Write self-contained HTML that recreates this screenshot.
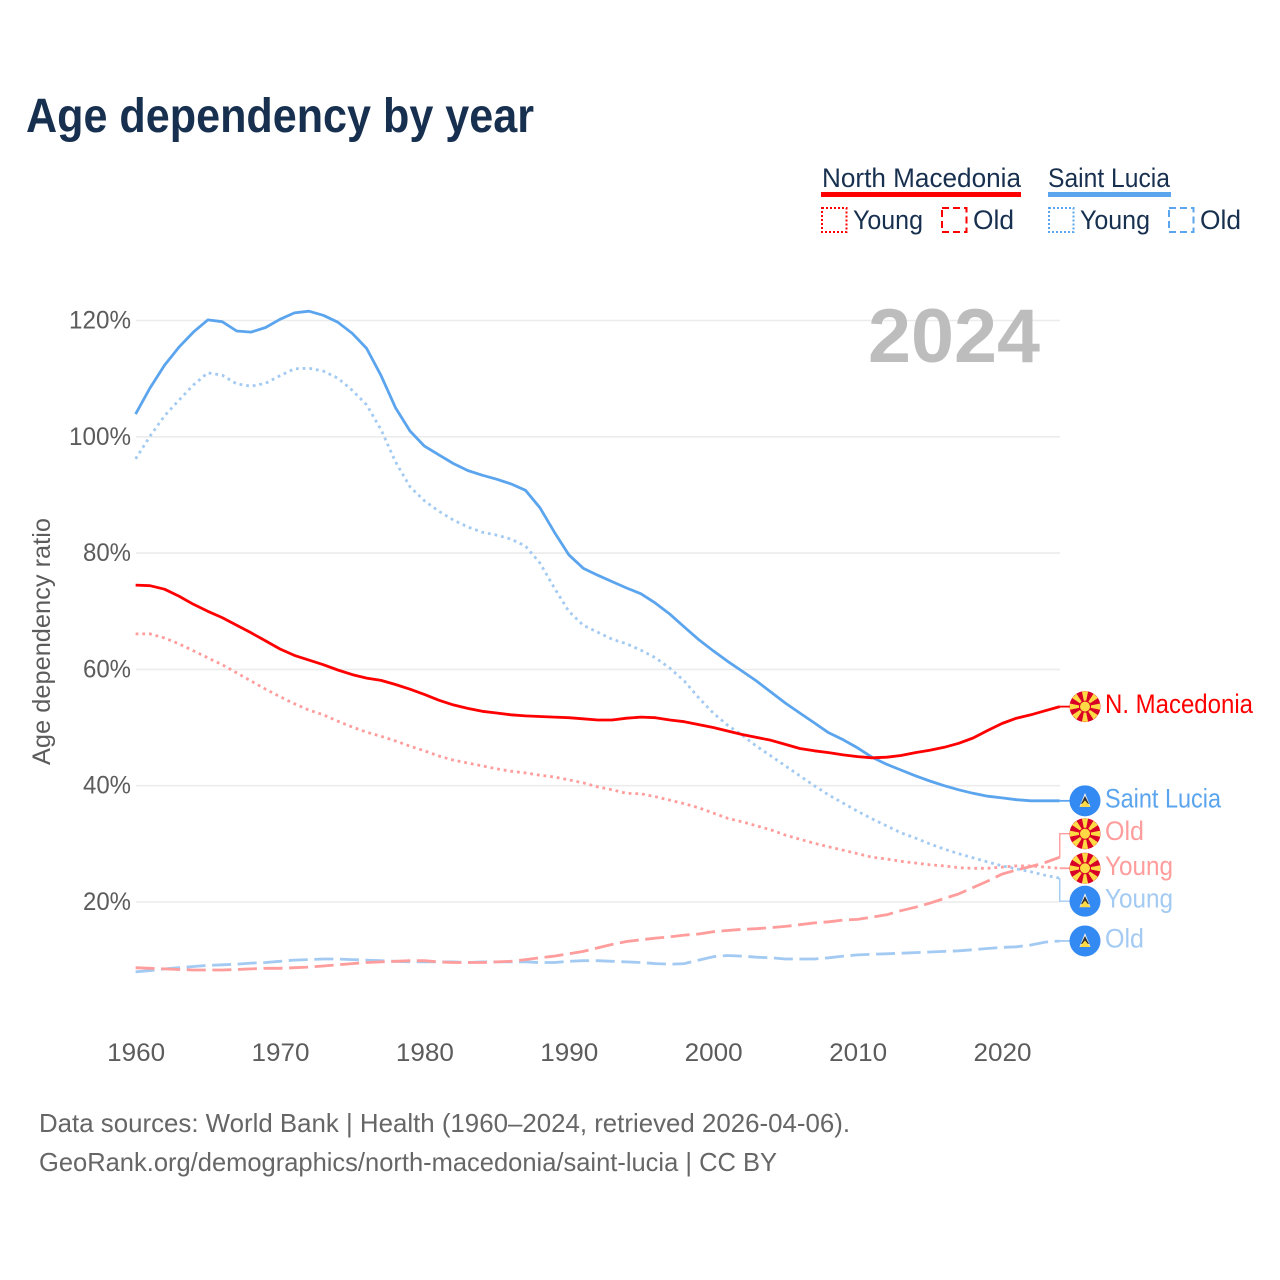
<!DOCTYPE html>
<html lang="en">
<head>
<meta charset="utf-8">
<title>Age dependency by year</title>
<style>
html,body{margin:0;padding:0;background:#fff;}
svg{display:block;font-family:"Liberation Sans",sans-serif;}
</style>
</head>
<body>
<svg id="chart" xmlns="http://www.w3.org/2000/svg" width="1280" height="1280" viewBox="0 0 1280 1280">
  <rect width="1280" height="1280" fill="#fff"/>
  <text x="26" y="132" font-size="48" font-weight="bold" fill="#18304f" textLength="508" lengthAdjust="spacingAndGlyphs">Age dependency by year</text>

  <g font-size="27" fill="#18304f">
    <text x="822" y="187" textLength="199" lengthAdjust="spacingAndGlyphs">North Macedonia</text>
    <rect x="821" y="192" width="200" height="5" fill="#ff0000"/>
    <rect x="822" y="208" width="24.500" height="24" fill="none" stroke="#ff0000" stroke-width="2" stroke-dasharray="2 2"/>
    <text x="853" y="229" textLength="70" lengthAdjust="spacingAndGlyphs">Young</text>
    <rect x="942" y="208" width="24.500" height="24" fill="none" stroke="#ff0000" stroke-width="2" stroke-dasharray="7 4"/>
    <text x="973" y="229" textLength="41" lengthAdjust="spacingAndGlyphs">Old</text>

    <text x="1048" y="187" textLength="122" lengthAdjust="spacingAndGlyphs">Saint Lucia</text>
    <rect x="1048" y="192" width="123" height="5" fill="#5ba4ee"/>
    <rect x="1049" y="208" width="24.500" height="24" fill="none" stroke="#5ba4ee" stroke-width="2" stroke-dasharray="2 2"/>
    <text x="1080" y="229" textLength="70" lengthAdjust="spacingAndGlyphs">Young</text>
    <rect x="1169" y="208" width="24.500" height="24" fill="none" stroke="#5ba4ee" stroke-width="2" stroke-dasharray="7 4"/>
    <text x="1200" y="229" textLength="41" lengthAdjust="spacingAndGlyphs">Old</text>
  </g>

  <g id="grid"></g>
  <text x="868" y="362" font-size="76" font-weight="bold" fill="#bdbdbd" textLength="172" lengthAdjust="spacingAndGlyphs">2024</text>
  <g id="yticks" font-size="25" fill="#5c5c5c"></g>
  <g id="xticks" font-size="25" fill="#5c5c5c"></g>
  <text transform="translate(50,765) rotate(-90)" x="0" y="0" font-size="25" fill="#5c5c5c" textLength="247" lengthAdjust="spacingAndGlyphs">Age dependency ratio</text>
  <g id="series"></g>
  <g id="ends" font-size="27"></g>

  <g font-size="26" fill="#666666">
    <text x="39" y="1132" textLength="811" lengthAdjust="spacingAndGlyphs">Data sources: World Bank | Health (1960–2024, retrieved 2026-04-06).</text>
    <text x="39" y="1171" textLength="738" lengthAdjust="spacingAndGlyphs">GeoRank.org/demographics/north-macedonia/saint-lucia | CC BY</text>
  </g>
</svg>
<script>
const startYear = 1960;
const xTickLabels = [1960, 1970, 1980, 1990, 2000, 2010, 2020];
const yTickLabels = [20, 40, 60, 80, 100, 120];

const nmTotal = [74.5,74.4,73.8,72.6,71.2,70.0,68.9,67.6,66.3,64.9,63.5,62.4,61.6,60.8,59.9,59.1,58.5,58.1,57.4,56.6,55.7,54.7,53.9,53.3,52.8,52.5,52.2,52.0,51.9,51.8,51.7,51.5,51.3,51.3,51.6,51.8,51.7,51.3,51.0,50.5,50.0,49.4,48.8,48.3,47.8,47.1,46.4,46.0,45.7,45.3,45.0,44.8,44.9,45.2,45.7,46.1,46.6,47.3,48.2,49.5,50.7,51.6,52.2,52.9,53.6];
const nmYoung = [66.1,66.1,65.4,64.4,63.2,62.0,60.8,59.4,58.0,56.6,55.3,54.1,53.0,52.2,51.1,50.1,49.2,48.5,47.7,46.8,46.0,45.1,44.4,43.9,43.4,42.9,42.5,42.2,41.8,41.5,41.0,40.5,39.8,39.3,38.7,38.6,38.1,37.5,36.9,36.2,35.3,34.4,33.8,33.1,32.4,31.5,30.8,30.1,29.5,28.9,28.3,27.7,27.4,27.0,26.7,26.4,26.2,25.9,25.8,25.8,26.0,26.2,26.2,26.0,25.8];
const nmOld = [8.7,8.6,8.5,8.4,8.3,8.3,8.3,8.4,8.5,8.6,8.6,8.7,8.8,9.0,9.2,9.4,9.6,9.7,9.8,9.9,9.9,9.7,9.6,9.6,9.6,9.7,9.8,10.1,10.4,10.7,11.1,11.5,12.1,12.7,13.2,13.5,13.8,14.0,14.3,14.5,14.9,15.1,15.3,15.4,15.6,15.8,16.1,16.4,16.6,16.9,17.0,17.4,17.8,18.5,19.1,19.8,20.6,21.4,22.5,23.6,24.8,25.5,26.1,26.8,27.7];
const slTotal = [103.9,108.4,112.3,115.4,118.0,120.1,119.8,118.2,118.0,118.8,120.2,121.3,121.6,120.9,119.7,117.8,115.2,110.5,105.0,101.0,98.4,96.9,95.4,94.2,93.4,92.7,91.9,90.8,87.8,83.6,79.7,77.4,76.2,75.1,74.0,73.0,71.4,69.5,67.3,65.1,63.2,61.4,59.7,58.0,56.1,54.2,52.5,50.8,49.1,47.9,46.5,44.9,43.7,42.7,41.7,40.8,40.0,39.3,38.7,38.2,37.9,37.6,37.4,37.4,37.4];
const slYoung = [96.2,100.1,103.6,106.3,108.9,111.0,110.6,109.1,108.7,109.2,110.5,111.7,111.8,111.3,110.1,108.0,105.5,101.2,95.7,91.4,89.0,87.2,85.7,84.5,83.6,83.1,82.4,81.2,78.3,74.0,70.0,67.6,66.4,65.2,64.4,63.3,62.0,60.2,58.0,55.1,52.5,50.4,48.7,46.8,45.1,43.4,41.7,40.0,38.4,37.0,35.6,34.3,33.1,31.9,31.0,30.0,29.1,28.3,27.6,26.9,26.2,25.7,25.2,24.6,24.1];
const slOld = [8.0,8.2,8.5,8.7,8.9,9.1,9.2,9.3,9.5,9.6,9.8,10.0,10.1,10.2,10.2,10.1,10.0,9.9,9.8,9.7,9.7,9.7,9.7,9.6,9.7,9.7,9.7,9.7,9.6,9.6,9.8,9.9,9.9,9.8,9.7,9.6,9.4,9.3,9.4,10.0,10.6,10.8,10.7,10.5,10.4,10.2,10.2,10.2,10.4,10.7,10.9,11.0,11.1,11.2,11.3,11.4,11.5,11.6,11.8,12.0,12.2,12.3,12.6,13.1,13.3];

const NS = 'http://www.w3.org/2000/svg';
const xScale = function (year) { return 135.6 + (year - startYear) * 14.44; };
const yScale = function (pct) { return 902 - (pct - 20) * 5.815; };

function mk(tag, parent, attrs) {
  const el = document.createElementNS(NS, tag);
  for (const k in attrs) el.setAttribute(k, attrs[k]);
  parent.appendChild(el);
  return el;
}

const grid = document.getElementById('grid');
const yticks = document.getElementById('yticks');
const xticks = document.getElementById('xticks');
const seriesG = document.getElementById('series');
const ends = document.getElementById('ends');

yTickLabels.forEach(function (v) {
  const line = mk('line', grid, {x1: 136, x2: 1060, y1: yScale(v), y2: yScale(v), stroke: '#ececec', 'stroke-width': 1.6});
  
  
  const s = v + '%';
  const t = mk('text', yticks, {x: 131, y: yScale(v) + 8, 'text-anchor': 'end', textLength: s.length === 4 ? 62 : 48, lengthAdjust: 'spacingAndGlyphs'});
  t.textContent = s;
  
  
});

xTickLabels.forEach(function (yr) {
  const t = mk('text', xticks, {x: xScale(yr) - 28.5, y: 1061, textLength: 58, lengthAdjust: 'spacingAndGlyphs'});
  t.textContent = yr;
  
  
});

function drawLine(values, color, dash, name) {
  const pts = values.map(function (v, i) {
    return xScale(startYear + i).toFixed(1) + ',' + yScale(v).toFixed(1);
  }).join(' ');
  const attrs = {points: pts, fill: 'none', stroke: color, 'stroke-width': 2.8, 'stroke-linejoin': 'round'};
  if (dash) attrs['stroke-dasharray'] = dash;
  const el = mk('polyline', seriesG, attrs);
  
  
}

const DOT = '2.8 3.9';
const DASH = '19 6.6';
const RED = '#ff0000', BLUE = '#5ba4ee', PALE_RED = '#ff9c9c', PALE_BLUE = '#a3caf2';

drawLine(slOld, PALE_BLUE, DASH, 'line-saint-lucia-old');
drawLine(nmOld, PALE_RED, DASH, 'line-north-macedonia-old');
drawLine(nmYoung, PALE_RED, DOT, 'line-north-macedonia-young');
drawLine(slYoung, PALE_BLUE, DOT, 'line-saint-lucia-young');
drawLine(slTotal, BLUE, null, 'line-saint-lucia-total');
drawLine(nmTotal, RED, null, 'line-north-macedonia-total');

function flagNM(parent, cx, cy) {
  const g = mk('g', parent, {});
  
  
  mk('circle', g, {cx: cx, cy: cy, r: 15.5, fill: '#d80027'});
  for (let a = 0; a < 8; a++) {
    const t = a * Math.PI / 4;
    const w = 0.2;
    mk('polygon', g, {
      points: [
        cx + ',' + cy,
        (cx + 15.5 * Math.cos(t - w)) + ',' + (cy + 15.5 * Math.sin(t - w)),
        (cx + 15.5 * Math.cos(t + w)) + ',' + (cy + 15.5 * Math.sin(t + w))
      ].join(' '),
      fill: '#ffda44'
    });
  }
  mk('circle', g, {cx: cx, cy: cy, r: 6, fill: '#d80027'});
  mk('circle', g, {cx: cx, cy: cy, r: 5, fill: '#ffda44'});
}

function flagSL(parent, cx, cy) {
  const g = mk('g', parent, {});
  
  
  mk('circle', g, {cx: cx, cy: cy, r: 15.5, fill: '#338af3'});
  mk('polygon', g, {points: cx + ',' + (cy - 8) + ' ' + (cx + 5.5) + ',' + (cy + 6) + ' ' + (cx - 5.5) + ',' + (cy + 6), fill: '#f3f3f3'});
  mk('polygon', g, {points: cx + ',' + (cy - 5) + ' ' + (cx + 4) + ',' + (cy + 3) + ' ' + (cx - 4) + ',' + (cy + 3), fill: '#333333'});
  mk('polygon', g, {points: cx + ',' + (cy - 0.5) + ' ' + (cx + 5.5) + ',' + (cy + 6) + ' ' + (cx - 5.5) + ',' + (cy + 6), fill: '#ffda44'});
}

function drawEnd(values, offset, color, text, width, flag, slug) {
  const ey = yScale(values[values.length - 1]);
  const ly = ey + offset;
  const endX = xScale(startYear + values.length - 1);
  const path = Math.abs(offset) > 2
    ? 'M' + endX + ' ' + ey + ' L' + endX + ' ' + ly + ' L1070 ' + ly
    : 'M' + endX + ' ' + ey + ' L1070 ' + ly;
  const c = mk('path', ends, {d: path, fill: 'none', stroke: color, 'stroke-width': Math.abs(offset) > 2 ? 1.4 : 1.8});
  
  
  flag(ends, 1085, ly);
  const t = mk('text', ends, {x: 1105, y: ly + 6.5, fill: color, textLength: width, lengthAdjust: 'spacingAndGlyphs'});
  t.textContent = text;
  
  
}

drawEnd(nmTotal, 0, RED, 'N. Macedonia', 148, flagNM, 'north-macedonia-total');
drawEnd(slTotal, 0, BLUE, 'Saint Lucia', 116, flagSL, 'saint-lucia-total');
drawEnd(nmOld, -23.5, PALE_RED, 'Old', 39, flagNM, 'north-macedonia-old');
drawEnd(nmYoung, 0, PALE_RED, 'Young', 68, flagNM, 'north-macedonia-young');
drawEnd(slYoung, 23, PALE_BLUE, 'Young', 68, flagSL, 'saint-lucia-young');
drawEnd(slOld, 0, PALE_BLUE, 'Old', 39, flagSL, 'saint-lucia-old');
</script>
</body>
</html>
